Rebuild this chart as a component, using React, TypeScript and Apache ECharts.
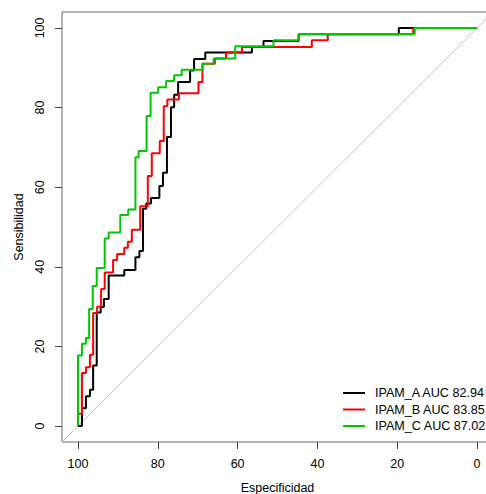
import React, { useEffect, useRef } from "react";
import * as echarts from "echarts";

// ROC curves: specificity (%) on a reversed x axis, sensitivity (%) on y
const seriesNames = ["IPAM_A", "IPAM_B", "IPAM_C"];
const aucValues = [82.94, 83.85, 87.02];
const seriesColors = ["#000000", "#FF0000", "#00C800"];

const specA = [100, 99.0, 98.0, 97.0, 96.2, 95.3, 94.3, 93.5, 92.3, 88.4, 85.6, 84.6, 83.7, 82.9, 81.7, 79.6, 78.7, 77.7, 76.7, 75.9, 74.9, 71.9, 70.9, 68.1, 56.4, 53.5, 44.7, 19.6, 0];
const sensA = [0, 4.5, 7.5, 9.1, 15.2, 28.5, 29.9, 31.9, 37.8, 39.2, 42.4, 44.0, 54.6, 55.9, 57.3, 60.3, 63.6, 72.6, 80.1, 83.2, 86.4, 89.3, 92.2, 93.8, 95.2, 96.7, 98.4, 100, 100];

const specB = [100, 100, 99.0, 98.0, 97.0, 96.2, 95.2, 94.2, 93.3, 91.2, 90.2, 88.4, 87.5, 86.5, 84.4, 82.5, 81.5, 79.5, 78.5, 77.6, 74.7, 69.8, 68.8, 65.7, 62.9, 58.9, 41.4, 37.4, 16.0, 0];
const sensB = [0, 3.1, 13.3, 14.8, 17.9, 28.4, 30.0, 34.4, 38.6, 41.7, 43.2, 44.8, 46.3, 49.3, 55.2, 62.8, 68.5, 71.6, 80.3, 82.0, 83.6, 86.4, 91.0, 92.3, 93.8, 95.2, 96.9, 98.4, 100, 100];

const specC = [100, 100, 99.0, 98.0, 97.2, 96.3, 95.3, 93.3, 92.3, 89.4, 87.4, 85.6, 84.8, 82.8, 81.8, 79.9, 77.9, 75.9, 74.0, 68.8, 66.0, 60.6, 51.0, 44.7, 15.6, 0];
const sensC = [0, 17.7, 20.7, 22.1, 29.4, 35.2, 39.7, 47.1, 48.6, 53.0, 54.4, 67.5, 69.1, 77.9, 83.7, 85.1, 86.7, 88.1, 89.5, 91.0, 92.3, 95.4, 96.9, 98.5, 100, 100];

const tickValues = [0, 20, 40, 60, 80, 100];
const axisRange = [-4, 104];

const FONT = "'Liberation Sans', Arial, Helvetica, sans-serif";

const zip = (xs: number[], ys: number[]) => xs.map((x, i) => [x, ys[i]]);

export default function App() {
  const ref = useRef<HTMLDivElement>(null);

  useEffect(() => {
    if (!ref.current) return;
    const chart = echarts.init(ref.current, null, { renderer: "svg" });

    const curves = [zip(specA, sensA), zip(specB, sensB), zip(specC, sensC)];
    const labels = seriesNames.map((n, i) => `${n} AUC ${aucValues[i].toFixed(2)}`);

    const axisCommon = {
      type: "value" as const,
      min: axisRange[0],
      max: axisRange[1],
      // axes sit on the plot box edges, not at the zero crossing
      axisLine: { show: false, onZero: false },
      splitLine: { show: false },
      axisTick: {
        show: true,
        length: 7,
        lineStyle: { color: "#444", width: 1 },
        customValues: tickValues,
      },
      nameLocation: "middle" as const,
      nameTextStyle: { fontSize: 12.5, color: "#000", fontFamily: FONT },
    };

    // legend drawn at the lower right, rows 16.5px apart
    const legendX = 343;
    const legendY0 = 393;
    const legendGraphics: any[] = [];
    labels.forEach((label, i) => {
      const y = legendY0 + i * 16.5;
      legendGraphics.push({
        type: "line",
        shape: { x1: legendX, y1: y, x2: legendX + 22, y2: y },
        style: { stroke: seriesColors[i], lineWidth: 2 },
      });
      legendGraphics.push({
        type: "text",
        x: legendX + 32,
        y,
        style: {
          text: label,
          fill: "#000",
          fontSize: 12.6,
          fontFamily: FONT,
          verticalAlign: "middle",
        },
      });
    });

    chart.setOption({
      animation: false,
      backgroundColor: "#ffffff",
      grid: {
        left: 62,
        top: 12,
        width: 431,
        height: 430,
        show: true,
        borderColor: "#666",
        borderWidth: 1,
        backgroundColor: "transparent",
        containLabel: false,
        outerBoundsMode: "none",
      },
      xAxis: {
        ...axisCommon,
        inverse: true,
        name: "Especificidad",
        nameGap: 39,
        axisLabel: {
          customValues: tickValues,
          margin: 15,
          fontSize: 12.5,
          color: "#000",
          fontFamily: FONT,
        },
      },
      yAxis: {
        ...axisCommon,
        name: "Sensibilidad",
        nameGap: 37,
        axisLabel: {
          customValues: tickValues,
          rotate: 90,
          margin: 16,
          fontSize: 12.5,
          color: "#000",
          fontFamily: FONT,
        },
      },
      series: [
        {
          type: "line",
          name: "diagonal",
          data: [
            [axisRange[1], axisRange[0]],
            [axisRange[0], axisRange[1]],
          ],
          showSymbol: false,
          symbol: "none",
          lineStyle: { color: "#C4C4C4", width: 1 },
          silent: true,
          clip: true,
        },
        ...curves.map((data, i) => ({
          type: "line",
          name: labels[i],
          data,
          step: "end",
          showSymbol: false,
          symbol: "none",
          lineStyle: { color: seriesColors[i], width: 2 },
          clip: true,
        })),
      ],
      graphic: legendGraphics,
    });

    return () => chart.dispose();
  }, []);

  return (
    <div
      ref={ref}
      style={{ position: "fixed", left: 0, top: 0, width: 486, height: 494 }}
    />
  );
}
